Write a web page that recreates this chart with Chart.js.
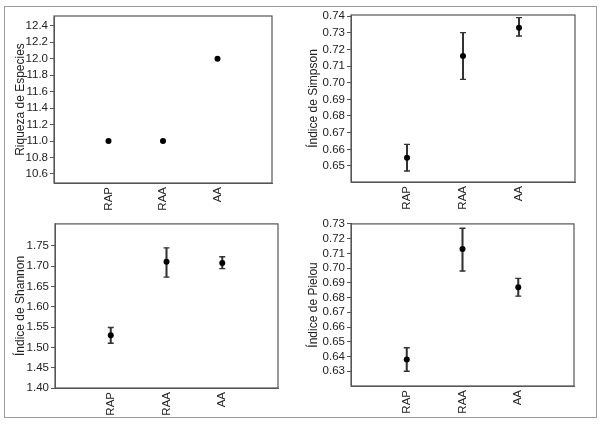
<!DOCTYPE html>
<html>
<head>
<meta charset="utf-8">
<script src="https://cdn.jsdelivr.net/npm/chart.js@4"></script>
<style>
  body { margin: 0; background: #fff; }
  #figura { position: relative; width: 604px; height: 429px; }
  #marco { position: absolute; left: 4px; top: 6px; width: 593px; height: 412px; border: 1px solid #9a9a9a; box-sizing: border-box; }
  canvas { position: absolute; }
</style>
</head>
<body>
<div id="figura">
  <div id="marco"></div>
  <canvas id="graficaRiqueza" width="300" height="215" style="left:0;top:0"></canvas>
  <canvas id="graficaSimpson" width="304" height="215" style="left:300px;top:0"></canvas>
  <canvas id="graficaShannon" width="300" height="214" style="left:0;top:215px"></canvas>
  <canvas id="graficaPielou" width="304" height="214" style="left:300px;top:215px"></canvas>
</div>
<script>
// Tratamientos
const categorias = ['RAP', 'RAA', 'AA'];

// Riqueza de especies (sin barras de error)
const riqueza = [11.0, 11.0, 12.0];
const riquezaTicks = [10.6, 10.8, 11.0, 11.2, 11.4, 11.6, 11.8, 12.0, 12.2, 12.4];

// Indice de Simpson
const simpson = [0.655, 0.716, 0.733];
const simpsonMin = [0.647, 0.702, 0.728];
const simpsonMax = [0.663, 0.730, 0.739];
const simpsonTicks = [0.65, 0.66, 0.67, 0.68, 0.69, 0.70, 0.71, 0.72, 0.73, 0.74];

// Indice de Shannon
const shannon = [1.530, 1.711, 1.708];
const shannonMin = [1.510, 1.673, 1.694];
const shannonMax = [1.549, 1.745, 1.723];
const shannonTicks = [1.40, 1.45, 1.50, 1.55, 1.60, 1.65, 1.70, 1.75];

// Indice de Pielou
const pielou = [0.638, 0.713, 0.687];
const pielouMin = [0.630, 0.698, 0.681];
const pielouMax = [0.646, 0.727, 0.693];
const pielouTicks = [0.63, 0.64, 0.65, 0.66, 0.67, 0.68, 0.69, 0.70, 0.71, 0.72, 0.73];

const fuente = 'Liberation Sans, Arial, Helvetica, sans-serif';
const colorTexto = '#222';
const colorEje = '#555';
const colorError = '#333';

// un hueco a cada lado para que los puntos queden a 1/4, 1/2 y 3/4
const etiquetas = ['', ...categorias, ''];
const rellenar = arr => [null, ...arr, null];

// dibuja el recuadro del area de la grafica
const recuadro = {
    id: 'recuadro',
    afterDraw(chart) {
        const { ctx, chartArea: a } = chart;
        ctx.save();
        ctx.strokeStyle = colorEje;
        ctx.lineWidth = 1.2;
        ctx.strokeRect(a.left, a.top, a.right - a.left, a.bottom - a.top);
        ctx.restore();
    }
};

function crearGrafica(id, cfg) {
    const canvas = document.getElementById(id);
    const W = canvas.width, H = canvas.height;
    const datasets = [{
        type: 'line',
        data: rellenar(cfg.valores),
        showLine: false,
        pointRadius: 3,
        pointBackgroundColor: '#000',
        pointBorderColor: '#000',
        borderWidth: 0,
        order: 0
    }];
    if (cfg.minimos) {
        // linea vertical del error
        datasets.push({
            type: 'bar',
            data: rellenar(cfg.minimos.map((v, i) => [v, cfg.maximos[i]])),
            backgroundColor: colorError,
            borderWidth: 0,
            barThickness: 1.4,
            order: 3
        });
        // topes de arriba y abajo
        [cfg.maximos, cfg.minimos].forEach(lim => {
            datasets.push({
                type: 'line',
                data: rellenar(lim),
                showLine: false,
                pointStyle: 'line',
                pointRadius: 3,
                pointBorderColor: colorError,
                pointBorderWidth: 1.4,
                order: 2
            });
        });
    }

    new Chart(canvas, {
        type: 'bar',
        data: { labels: etiquetas, datasets: datasets },
        options: {
            responsive: false,
            animation: false,
            events: [],
            layout: {
                padding: { left: cfg.area.padIzq, top: cfg.area.top, right: W - cfg.area.right, bottom: 0 }
            },
            plugins: { legend: { display: false }, tooltip: { enabled: false } },
            scales: {
                x: {
                    offset: false,
                    grid: { display: false, drawTicks: false, tickLength: 0 },
                    border: { display: true, color: colorEje },
                    ticks: {
                        autoSkip: false,
                        minRotation: 90,
                        maxRotation: 90,
                        padding: 4,
                        color: colorTexto,
                        font: { family: fuente, size: 11.5 }
                    },
                    afterFit: s => { s.height = H - cfg.area.bottom; }
                },
                y: {
                    min: cfg.yMin,
                    max: cfg.yMax,
                    afterBuildTicks: s => { s.ticks = cfg.ticks.map(v => ({ value: v })); },
                    grid: { drawOnChartArea: false, drawTicks: true, tickLength: 4, color: colorEje },
                    border: { display: true, color: colorEje },
                    ticks: {
                        autoSkip: false,
                        padding: 2,
                        color: colorTexto,
                        font: { family: fuente, size: 11.5 },
                        callback: v => Number(v).toFixed(cfg.decimales)
                    },
                    title: {
                        display: true,
                        text: cfg.titulo,
                        color: colorTexto,
                        font: { family: fuente, size: 12 },
                        padding: 0
                    },
                    afterFit: s => { s.width = cfg.area.left - cfg.area.padIzq; }
                }
            }
        },
        plugins: [recuadro]
    });
}

crearGrafica('graficaRiqueza', {
    valores: riqueza,
    ticks: riquezaTicks, decimales: 1,
    yMin: 10.49, yMax: 12.52,
    titulo: 'Riqueza de Especies',
    area: { left: 54, top: 16, right: 272, bottom: 183, padIzq: 13 }
});

crearGrafica('graficaSimpson', {
    valores: simpson, minimos: simpsonMin, maximos: simpsonMax,
    ticks: simpsonTicks, decimales: 2,
    yMin: 0.6404, yMax: 0.7406,
    titulo: 'Índice de Simpson',
    area: { left: 51, top: 15, right: 275, bottom: 182, padIzq: 6 }
});

crearGrafica('graficaShannon', {
    valores: shannon, minimos: shannonMin, maximos: shannonMax,
    ticks: shannonTicks, decimales: 2,
    yMin: 1.40, yMax: 1.804,
    titulo: 'Índice de Shannon',
    area: { left: 55, top: 4, right: 278, bottom: 173, padIzq: 13 }
});

crearGrafica('graficaPielou', {
    valores: pielou, minimos: pielouMin, maximos: pielouMax,
    ticks: pielouTicks, decimales: 2,
    yMin: 0.62, yMax: 0.73,
    titulo: 'Índice de Pielou',
    area: { left: 51, top: 5, right: 274, bottom: 171, padIzq: 6 }
});
</script>
</body>
</html>
